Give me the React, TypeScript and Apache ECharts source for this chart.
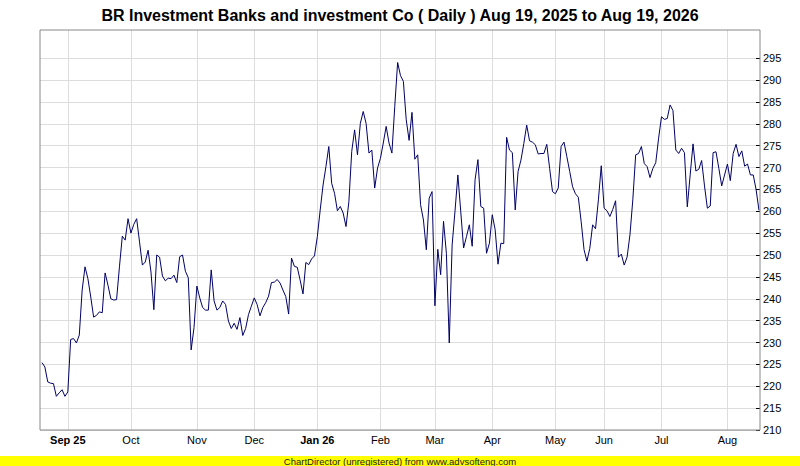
import React, { useEffect, useRef } from "react";
import * as echarts from "echarts";

const chartTitle = "BR Investment Banks and investment Co ( Daily ) Aug 19, 2025 to Aug 19, 2026";
const footerText = "ChartDirector (unregistered) from www.advsofteng.com";

const closePrices = [
  225.4, 224.4, 221.0, 220.7, 220.6, 217.7, 218.5, 219.2, 217.7, 218.7,
  230.7, 230.9, 229.9, 231.7, 242.0, 247.3, 244.6, 240.4, 235.8, 236.2,
  237.0, 236.8, 245.9, 243.1, 240.0, 239.7, 239.8, 247.3, 254.3, 253.4,
  258.3, 255.0, 257.0, 258.3, 253.0, 247.7, 248.4, 251.1, 246.1, 237.5,
  250.0, 249.5, 245.2, 244.1, 244.7, 244.6, 245.4, 243.7, 249.6, 250.0,
  246.3, 244.8, 228.3, 233.4, 242.9, 240.2, 238.0, 237.4, 237.4, 246.6,
  239.5, 237.4, 238.0, 239.5, 238.7, 234.9, 233.2, 234.4, 233.0, 235.7,
  231.6, 233.2, 236.4, 238.3, 240.2, 238.7, 236.1, 238.0, 239.1, 240.6,
  243.7, 243.8, 244.4, 243.6, 242.0, 240.5, 236.5, 249.3, 247.4, 247.2,
  244.3, 241.1, 248.3, 247.8, 249.1, 249.8, 254.2, 260.3, 266.0, 270.2,
  274.8, 266.4, 264.1, 260.1, 261.1, 259.6, 256.5, 262.2, 273.7, 278.6,
  272.9, 280.1, 282.8, 280.1, 273.3, 274.0, 265.3, 269.9, 272.1, 275.6,
  279.4, 275.6, 273.3, 284.0, 294.0, 291.0, 289.7, 280.9, 276.2, 282.6,
  271.9, 272.9, 261.5, 258.0, 251.2, 263.0, 264.5, 238.4, 251.3, 245.5,
  257.7, 250.4, 229.9, 252.3, 260.0, 268.3, 260.0, 251.6, 254.2, 256.9,
  252.0, 267.2, 271.8, 261.1, 260.7, 250.4, 252.7, 259.2, 255.8, 247.9,
  252.7, 252.6, 276.9, 274.0, 273.4, 260.3, 269.1, 271.7, 275.5, 279.7,
  276.1, 275.8, 275.2, 273.1, 273.2, 273.2, 275.3, 269.8, 264.5, 264.0,
  265.3, 274.8, 275.8, 272.5, 269.1, 265.6, 264.0, 263.2, 257.6, 251.2,
  248.6, 251.5, 256.9, 256.0, 262.6, 270.4, 260.7, 260.1, 258.8, 260.4,
  262.4, 249.5, 250.2, 247.7, 249.5, 254.6, 262.6, 272.9, 273.2, 274.8,
  270.9, 270.2, 267.7, 269.8, 271.1, 276.7, 281.6, 281.0, 281.2, 284.3,
  283.0, 274.0, 273.2, 274.4, 273.4, 261.0, 268.3, 275.4, 269.2, 269.6,
  271.6, 265.8, 260.7, 261.2, 273.4, 273.6, 269.8, 265.8, 268.3, 270.8,
  267.0, 273.2, 275.3, 272.5, 273.8, 270.3, 270.8, 268.3, 268.3, 264.9,
  260.2,
];

const monthLabels = ["Sep 25", "Oct", "Nov", "Dec", "Jan 26", "Feb", "Mar", "Apr", "May", "Jun", "Jul", "Aug"];
const monthIndex = [9, 31, 54, 74, 96, 118, 137, 157, 179, 196, 216, 239];
const priceTicks = [210, 215, 220, 225, 230, 235, 240, 245, 250, 255, 260, 265, 270, 275, 280, 285, 290, 295];

const FONT = "'Liberation Sans', Arial, sans-serif";

export default function App() {
  const ref = useRef<HTMLDivElement>(null);
  useEffect(() => {
    if (!ref.current) return;
    const chart = echarts.init(ref.current, undefined, { renderer: "svg" });
    const seriesData = closePrices.map((v, i) => [i, v]);
    chart.setOption({
      animation: false,
      backgroundColor: "#ffffff",
      title: {
        text: chartTitle,
        left: "center",
        top: 2,
        textStyle: { fontFamily: FONT, fontSize: 16, fontWeight: "bold", color: "#000000" },
      },
      grid: {
        left: 40,
        right: 40,
        top: 30,
        bottom: 36,
        show: false,
      },
      xAxis: {
        type: "value",
        min: -0.7,
        max: 250.35,
        axisLine: { show: false, onZero: false },
        axisTick: { show: false, customValues: monthIndex },
        splitLine: { show: true, lineStyle: { color: "#dddddd", width: 1 } },
        axisLabel: {
          customValues: monthIndex,
          margin: 4,
          fontFamily: FONT,
          fontSize: 11,
          color: "#000000",
          formatter: (val: number) => {
            const k = monthIndex.indexOf(Math.round(val));
            if (k < 0) return "";
            const s = monthLabels[k];
            return s.indexOf(" ") >= 0 ? "{b|" + s + "}" : s;
          },
          rich: {
            b: { fontFamily: FONT, fontSize: 11, fontWeight: "bold", color: "#000000" },
          },
        },
      },
      yAxis: {
        type: "value",
        position: "right",
        min: 210,
        max: 301.43,
        interval: 5,
        axisLine: { show: false, onZero: false },
        axisTick: { show: true, inside: true, length: 4, customValues: priceTicks, lineStyle: { color: "#000000" } },
        splitLine: { show: true, lineStyle: { color: "#dddddd", width: 1 } },
        axisLabel: {
          customValues: priceTicks,
          margin: 3,
          fontFamily: FONT,
          fontSize: 11,
          color: "#000000",
        },
      },
      graphic: [
        {
          type: "rect",
          shape: { x: 40, y: 30, width: 720, height: 400 },
          style: { fill: "none", stroke: "#888888", lineWidth: 1 },
          silent: true,
          z: 50,
        },
        {
          type: "rect",
          shape: { x: 0, y: 456, width: 800, height: 10 },
          style: { fill: "#ffff00" },
          z: 10,
        },
        {
          type: "text",
          x: 400,
          y: 461,
          style: {
            text: footerText,
            fontFamily: FONT,
            fontSize: 9.5,
            fill: "#222222",
            textAlign: "center",
            textVerticalAlign: "middle",
          },
          z: 11,
        },
      ],
      series: [
        {
          type: "line",
          data: seriesData,
          showSymbol: false,
          symbol: "none",
          lineStyle: { color: "#000066", width: 1 },
          z: 5,
        },
      ],
    });
    return () => chart.dispose();
  }, []);
  return <div ref={ref} style={{ position: "absolute", left: 0, top: 0, width: 800, height: 466 }} />;
}
